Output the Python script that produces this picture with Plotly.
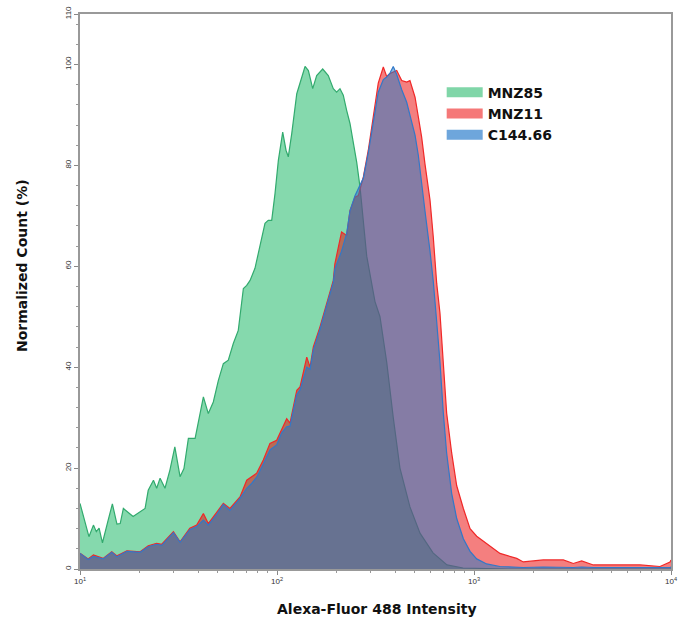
import plotly.graph_objects as go

# ---- data ----
mnz85_x = [10.0, 11.1, 11.7, 12.1, 12.5, 13.0, 13.9, 14.6, 15.4, 16.0, 16.6, 18.6, 21.4, 22.2, 23.6, 24.5,
           25.5, 27.0, 28.6, 30.3, 32.2, 33.7, 35.5, 38.4, 42.3, 44.8, 47.5, 50.4, 53.4, 56.6, 60.0, 63.6,
           67.5, 70.2, 73.0, 77.3, 86.9, 90.3, 94.0, 97.7, 101.6, 106.9, 111.1, 114.1, 118.8, 126.0, 138.8,
           144.3, 151.8, 159.0, 170.6, 182.1, 193.1, 200.8, 208.8, 217.0, 225.7, 234.7, 253.9, 263.9, 285.4,
           314.3, 333.2, 360.4, 389.2, 420.8, 473.0, 531.9, 619.4, 729.4, 879.5, 1072, 1500, 3000, 10000]
mnz85_y = [13.0, 6.4, 8.7, 7.4, 8.1, 5.2, 9.7, 12.9, 8.9, 9.0, 12.0, 10.4, 12.0, 15.6, 17.6, 16.0,
           18.0, 16.0, 19.6, 24.2, 18.3, 19.9, 25.9, 25.9, 34.1, 30.8, 33.1, 37.4, 40.7, 41.4, 44.7, 47.3,
           55.6, 56.2, 57.2, 59.6, 68.5, 69.1, 69.1, 74.4, 81.0, 86.6, 83.0, 81.7, 86.3, 94.2, 99.6,
           98.8, 95.2, 97.8, 99.1, 97.8, 95.2, 94.5, 95.2, 93.9, 90.9, 88.3, 80.6, 75.7, 62.0,
           53.0, 50.0, 41.0, 30.0, 20.0, 12.3, 7.1, 3.2, 0.8, 0.2, 0.1, 0.0, 0.0, 0.0]

mnz11_x = [10.0, 11.0, 11.7, 12.4, 13.1, 14.5, 15.4, 17.3, 20.2, 22.2, 24.5, 26.0, 29.8, 32.2, 36.1, 39.1,
           42.3, 44.8, 49.4, 53.4, 57.7, 64.9, 70.2, 74.5, 78.9, 85.2, 92.1, 99.6, 105.6, 112.0, 116.4,
           126.0, 130.9, 141.6, 147.2, 152.9, 165.3, 178.7, 193.1, 196.7, 212.7, 225.7, 234.7, 248.8, 258.8,
           274.4, 290.7, 308.1, 326.6, 346.4, 360.4, 374.7, 389.2, 405.3, 429.7, 455.4, 473.0, 502.0, 521.6,
           542.3, 563.7, 598.0, 621.3, 646.6, 671.9, 698.5, 726.4, 770.3, 817.0, 883.0, 955.0, 1032, 1159,
           1355, 1647, 1779, 2248, 2840, 3192, 3521, 4034, 5300, 6961, 8796, 9884, 10000]
mnz11_y = [3.1, 2.0, 2.8, 2.4, 2.1, 3.4, 2.6, 3.6, 3.4, 4.6, 5.1, 4.9, 7.4, 5.4, 8.1, 8.7,
           11.0, 9.0, 11.3, 13.0, 12.0, 14.3, 17.6, 18.3, 19.0, 21.6, 24.9, 25.5, 27.8, 29.8, 28.9,
           35.4, 36.1, 42.0, 40.0, 44.0, 48.0, 52.6, 57.2, 60.5, 66.8, 66.1, 71.0, 73.7, 74.0,
           77.7, 83.0, 89.6, 96.3, 99.5, 97.6, 98.2, 98.5, 98.8, 96.8, 96.5, 96.8, 93.5, 89.6,
           85.6, 80.3, 73.1, 65.8, 56.6, 50.7, 40.8, 30.9, 23.0, 16.5, 12.0, 8.0, 6.5, 5.1,
           3.1, 2.1, 1.4, 1.8, 1.8, 1.1, 1.6, 0.8, 0.8, 0.8, 0.5, 1.4, 1.8]

c144_x = [10.0, 11.0, 11.7, 12.4, 13.1, 14.5, 15.4, 17.3, 20.2, 22.2, 24.5, 26.0, 29.8, 32.2, 36.1, 39.1,
          42.3, 44.8, 49.4, 53.4, 57.7, 64.9, 70.2, 74.5, 78.9, 85.2, 92.1, 99.6, 105.6, 112.0, 116.4,
          126.0, 130.9, 141.6, 147.2, 152.9, 165.3, 178.7, 193.1, 196.7, 212.7, 225.7, 234.7, 248.8, 258.8,
          274.4, 290.7, 308.1, 326.6, 346.4, 360.4, 374.7, 389.2, 405.3, 429.7, 455.4, 473.0, 502.0, 521.6,
          542.3, 563.7, 598.0, 621.3, 646.6, 671.9, 698.5, 726.4, 770.3, 817.0, 883.0, 955.0, 1032, 1159,
          1355, 1647, 1779, 2248, 2840, 3192, 3521, 4034, 5300, 6961, 8796, 9884, 10000]
c144_y = [3.1, 1.9, 2.5, 2.2, 2.0, 3.3, 2.4, 3.5, 3.3, 4.4, 4.9, 4.7, 7.2, 5.3, 7.8, 8.4,
          9.7, 8.7, 10.8, 12.8, 11.6, 14.0, 16.0, 17.0, 18.2, 20.8, 23.6, 24.6, 27.0, 28.2, 28.3,
          34.6, 35.5, 40.0, 39.6, 43.4, 47.5, 52.2, 56.8, 59.5, 63.0, 66.5, 71.0, 74.0, 75.5,
          77.5, 82.5, 88.8, 94.5, 97.0, 97.5, 98.3, 99.6, 98.0, 95.0, 92.5, 90.0, 86.0, 82.0,
          77.0, 71.0, 63.0, 57.0, 49.0, 41.0, 31.0, 23.0, 15.0, 10.0, 6.0, 3.5, 2.0, 1.0,
          0.5, 0.4, 0.3, 0.4, 0.3, 0.3, 0.4, 0.3, 0.3, 0.3, 0.2, 0.3, 0.4]

series_names = ["MNZ85", "MNZ11", "C144.66"]
y_tick_values = [0, 20, 40, 60, 80, 100, 110]
x_tick_values = [10, 100, 1000, 10000]
x_tick_labels = ["10<sup>1</sup>", "10<sup>2</sup>", "10<sup>3</sup>", "10<sup>4</sup>"]

fills = ["rgba(33,185,105,0.55)", "rgba(233,0,0,0.5)", "rgba(30,120,200,0.52)"]
lines = ["rgb(50,170,110)", "rgb(240,40,40)", "rgb(50,120,200)"]
swatches = ["rgb(128,214,168)", "rgb(245,120,120)", "rgb(110,166,220)"]

fig = go.Figure()
for name, xs, ys, fc, lc in zip(series_names, [mnz85_x, mnz11_x, c144_x], [mnz85_y, mnz11_y, c144_y], fills, lines):
    fig.add_trace(go.Scatter(x=xs, y=ys, name=name, mode="lines", fill="tozeroy", legendgroup=name,
                             showlegend=False, fillcolor=fc, line=dict(color=lc, width=1.2)))
# legend entries (thick swatches, same groups as the filled traces)
for name, sc in zip(series_names, swatches):
    fig.add_trace(go.Scatter(x=[None], y=[None], name=name, mode="lines", legendgroup=name,
                             line=dict(color=sc, width=14)))

minor_x = [m * 10 ** k for k in range(1, 4) for m in range(2, 10)]

fig.update_layout(
    width=689, height=621,
    margin=dict(l=80, r=18, t=14, b=52),
    paper_bgcolor="white", plot_bgcolor="white",
    showlegend=True,
    legend=dict(x=0.612, y=0.887, xanchor="left", yanchor="top", bgcolor="rgba(0,0,0,0)",
                font=dict(family="DejaVu Sans", size=14, color="#111", weight="bold"),
                tracegroupgap=0, itemwidth=36),
    xaxis=dict(type="log", range=[1, 4], tickvals=x_tick_values, ticktext=x_tick_labels,
               ticks="outside", ticklen=4, tickcolor="#888", showgrid=False, zeroline=False,
               showline=True, linecolor="#999", linewidth=1.5, mirror=True, automargin=False,
               tickfont=dict(family="Liberation Sans", size=8, color="#333"),
               minor=dict(tickvals=minor_x, ticks="outside", ticklen=2, tickcolor="#999")),
    yaxis=dict(range=[0, 110], tickvals=y_tick_values, ticktext=[str(v) for v in y_tick_values],
               tickangle=-90, ticks="outside", ticklen=4, tickcolor="#888", showgrid=False,
               zeroline=False, showline=True, linecolor="#999", linewidth=1.5, mirror=True,
               automargin=False,
               tickfont=dict(family="Liberation Sans", size=8, color="#333"),
               minor=dict(dtick=4, ticks="outside", ticklen=2, tickcolor="#999")),
    annotations=[
        dict(text="<b>Normalized Count (%)</b>", xref="paper", yref="paper", x=-0.098, y=0.546,
             textangle=-90, showarrow=False, font=dict(family="DejaVu Sans", size=14, color="#111"),
             xanchor="center", yanchor="middle"),
        dict(text="<b>Alexa-Fluor 488 Intensity</b>", xref="paper", yref="paper", x=0.502, y=-0.072,
             showarrow=False, font=dict(family="DejaVu Sans", size=14, color="#111"),
             xanchor="center", yanchor="middle"),
    ],
)

fig.write_html("out.html", config={"displayModeBar": False},
               post_script="document.body.style.margin='0';")
